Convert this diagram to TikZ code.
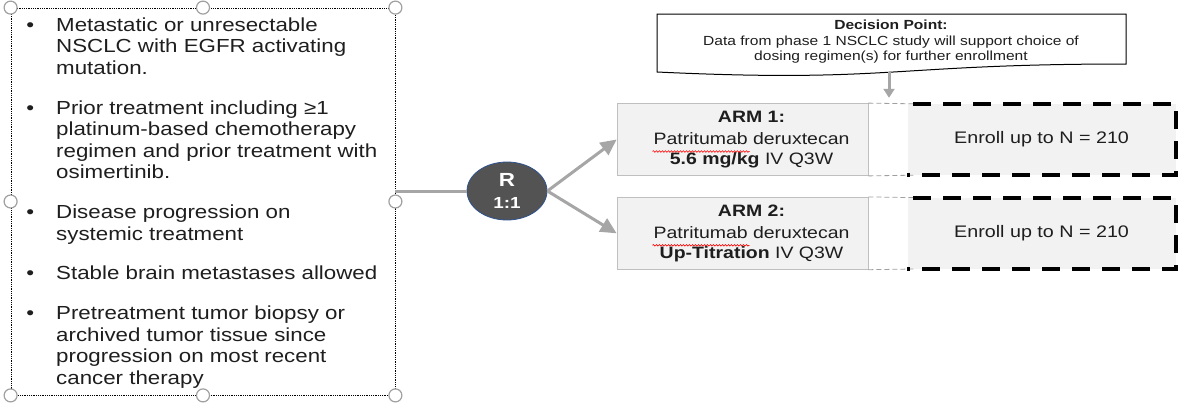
\documentclass[tikz,border=0pt]{standalone}
\usepackage{fontspec}
\setmainfont{Liberation Sans}[FakeStretch=1.18]
\usetikzlibrary{positioning,arrows.meta,calc,shapes.geometric,decorations.pathmorphing}

\definecolor{linkgray}{RGB}{166,166,166}
\definecolor{handlegray}{RGB}{160,160,160}
\definecolor{boxfill}{RGB}{242,242,242}
\definecolor{boxedge}{RGB}{191,191,191}
\definecolor{rfill}{RGB}{83,83,83}
\definecolor{rborder}{RGB}{47,82,143}
\definecolor{txt}{RGB}{30,30,30}

\newcommand{\bul}{\leavevmode\llap{\textbullet\hspace{22pt}}\strut}

\tikzstyle{elig} = [rectangle, draw=black, densely dotted, line width=0.8pt, minimum width=384pt, minimum height=387pt]
\tikzstyle{handle} = [circle, draw=handlegray, fill=white, solid, line width=1.2pt, minimum size=13pt, inner sep=0pt]
\tikzstyle{crit} = [anchor=north west, align=left, inner sep=0pt, text=txt, font=\fontsize{18.9}{21.5}\selectfont]
\tikzstyle{rand} = [ellipse, draw=rborder, fill=rfill, line width=0.8pt, minimum width=80pt, minimum height=58pt, inner sep=0pt, align=center, text=white, font=\fontsize{19}{22}\selectfont\bfseries]
\tikzstyle{armbox} = [rectangle, draw=boxedge, fill=boxfill, line width=0.8pt, minimum width=251pt, minimum height=72pt]
\tikzstyle{armtext} = [align=center, inner sep=0pt, text=txt, font=\fontsize{16.5}{19.5}\selectfont]
\tikzstyle{enroll} = [rectangle, fill=boxfill, minimum width=268pt, minimum height=71pt, text=txt, font=\fontsize{16.7}{19.5}\selectfont]
\tikzstyle{dectext} = [align=center, inner sep=0pt, text=txt, font=\fontsize{13.2}{15.5}\selectfont]
\tikzstyle{doc} = [draw=black, line width=1pt]
\tikzstyle{link} = [draw=linkgray, line width=3pt]
\tikzstyle{ray} = [link, -{Triangle[length=16pt,width=15pt]}]
\tikzstyle{drop} = [link, -{Triangle[length=9pt,width=11pt]}, shorten >=6pt]
\tikzstyle{gap} = [draw=handlegray, line width=0.8pt, dash pattern=on 5pt off 3pt]
\tikzstyle{frame} = [draw=black, line width=4pt, dash pattern=on 18pt off 12pt, dash phase=24pt]
\tikzstyle{spell} = [draw=red, line width=0.6pt, decorate, decoration={snake, amplitude=0.8pt, segment length=3pt}]

\begin{document}
\begin{tikzpicture}[x=1pt, y=-1pt]
	\useasboundingbox (0,0) rectangle (1181,402);

	% eligibility box
	\node[elig] (elig) at (203,201.5) {};
	\node[crit] (c1) at (56,16) {\bul Metastatic or unresectable\\NSCLC with EGFR activating\\mutation.\strut};
	\node[crit, below=18pt of c1.south west, anchor=north west] (c2) {\bul Prior treatment including ≥1\\platinum-based chemotherapy\\regimen and prior treatment with\\osimertinib.\strut};
	\node[crit, below=18pt of c2.south west, anchor=north west] (c3) {\bul Disease progression on\\systemic treatment\strut};
	\node[crit, below=18pt of c3.south west, anchor=north west] (c4) {\bul Stable brain metastases allowed\strut};
	\node[crit, below=18pt of c4.south west, anchor=north west] (c5) {\bul Pretreatment tumor biopsy or\\archived tumor tissue since\\progression on most recent\\cancer therapy\strut};

	% randomisation
	\node[rand] (rand) at (507,191) {R\\{\fontsize{16}{22}\selectfont 1:1}};

	% arms
	\node[armbox] (arm1) at (742.5,139.5) {};
	\node[armbox, below=21pt of arm1] (arm2) {};
	\node[armtext] (arm1txt) at ([xshift=9pt]arm1.center) {\textbf{ARM 1:}\\[3pt]Patritumab deruxtecan\\\textbf{5.6 mg/kg} IV Q3W};
	\node[armtext] (arm2txt) at ([xshift=9pt]arm2.center) {\textbf{ARM 2:}\\[3pt]Patritumab deruxtecan\\\textbf{Up-Titration} IV Q3W};
	\draw[spell] ($(arm1txt.center)+(-99,12)$) -- ($(arm1txt.center)+(-2,12)$);
	\draw[spell] ($(arm2txt.center)+(-99,12)$) -- ($(arm2txt.center)+(-2,12)$);

	\node[enroll, right=39pt of arm1] (enr1) {Enroll up to N = 210};
	\node[enroll, right=39pt of arm2] (enr2) {Enroll up to N = 210};
	\foreach \a/\e in {arm1/enr1, arm2/enr2} {
		\draw[gap] (\a.north east) -- ([xshift=6pt]\e.north west);
		\draw[gap] (\a.south east) -- ([xshift=6pt]\e.south west);
		\draw[frame] (\e.north west) -- (\e.north east) -- (\e.south east) -- (\e.south west);
	}

	% decision point
	\node[dectext] (decision) at (891,42) {\textbf{Decision Point:}\\Data from phase 1 NSCLC study will support choice of\\dosing regimen(s) for further enrollment};
	\draw[doc] ($(decision)+(-234,-28)$) -- ($(decision)+(235,-28)$) -- ($(decision)+(235,22)$)
		.. controls ($(decision)+(0,22)$) and ($(decision)+(0,41)$) .. ($(decision)+(-234,30)$) -- cycle;
	\coordinate (docfoot) at ($(decision)+(-2,30)$);
	\draw[drop] (docfoot) -- (docfoot |- enr1.north);

	% connectors
	\draw[link] (rand.west -| elig.east) -- (rand.west);
	\draw[ray] (rand.east) -- (arm1.west);
	\draw[ray] (rand.east) -- (arm2.west);

	% handles
	\foreach \a/\n in {north west/hnw, north/hn, north east/hne, west/hw, east/he, south west/hsw, south/hs, south east/hse}
		\node[handle] (\n) at (elig.\a) {};
\end{tikzpicture}
\end{document}
